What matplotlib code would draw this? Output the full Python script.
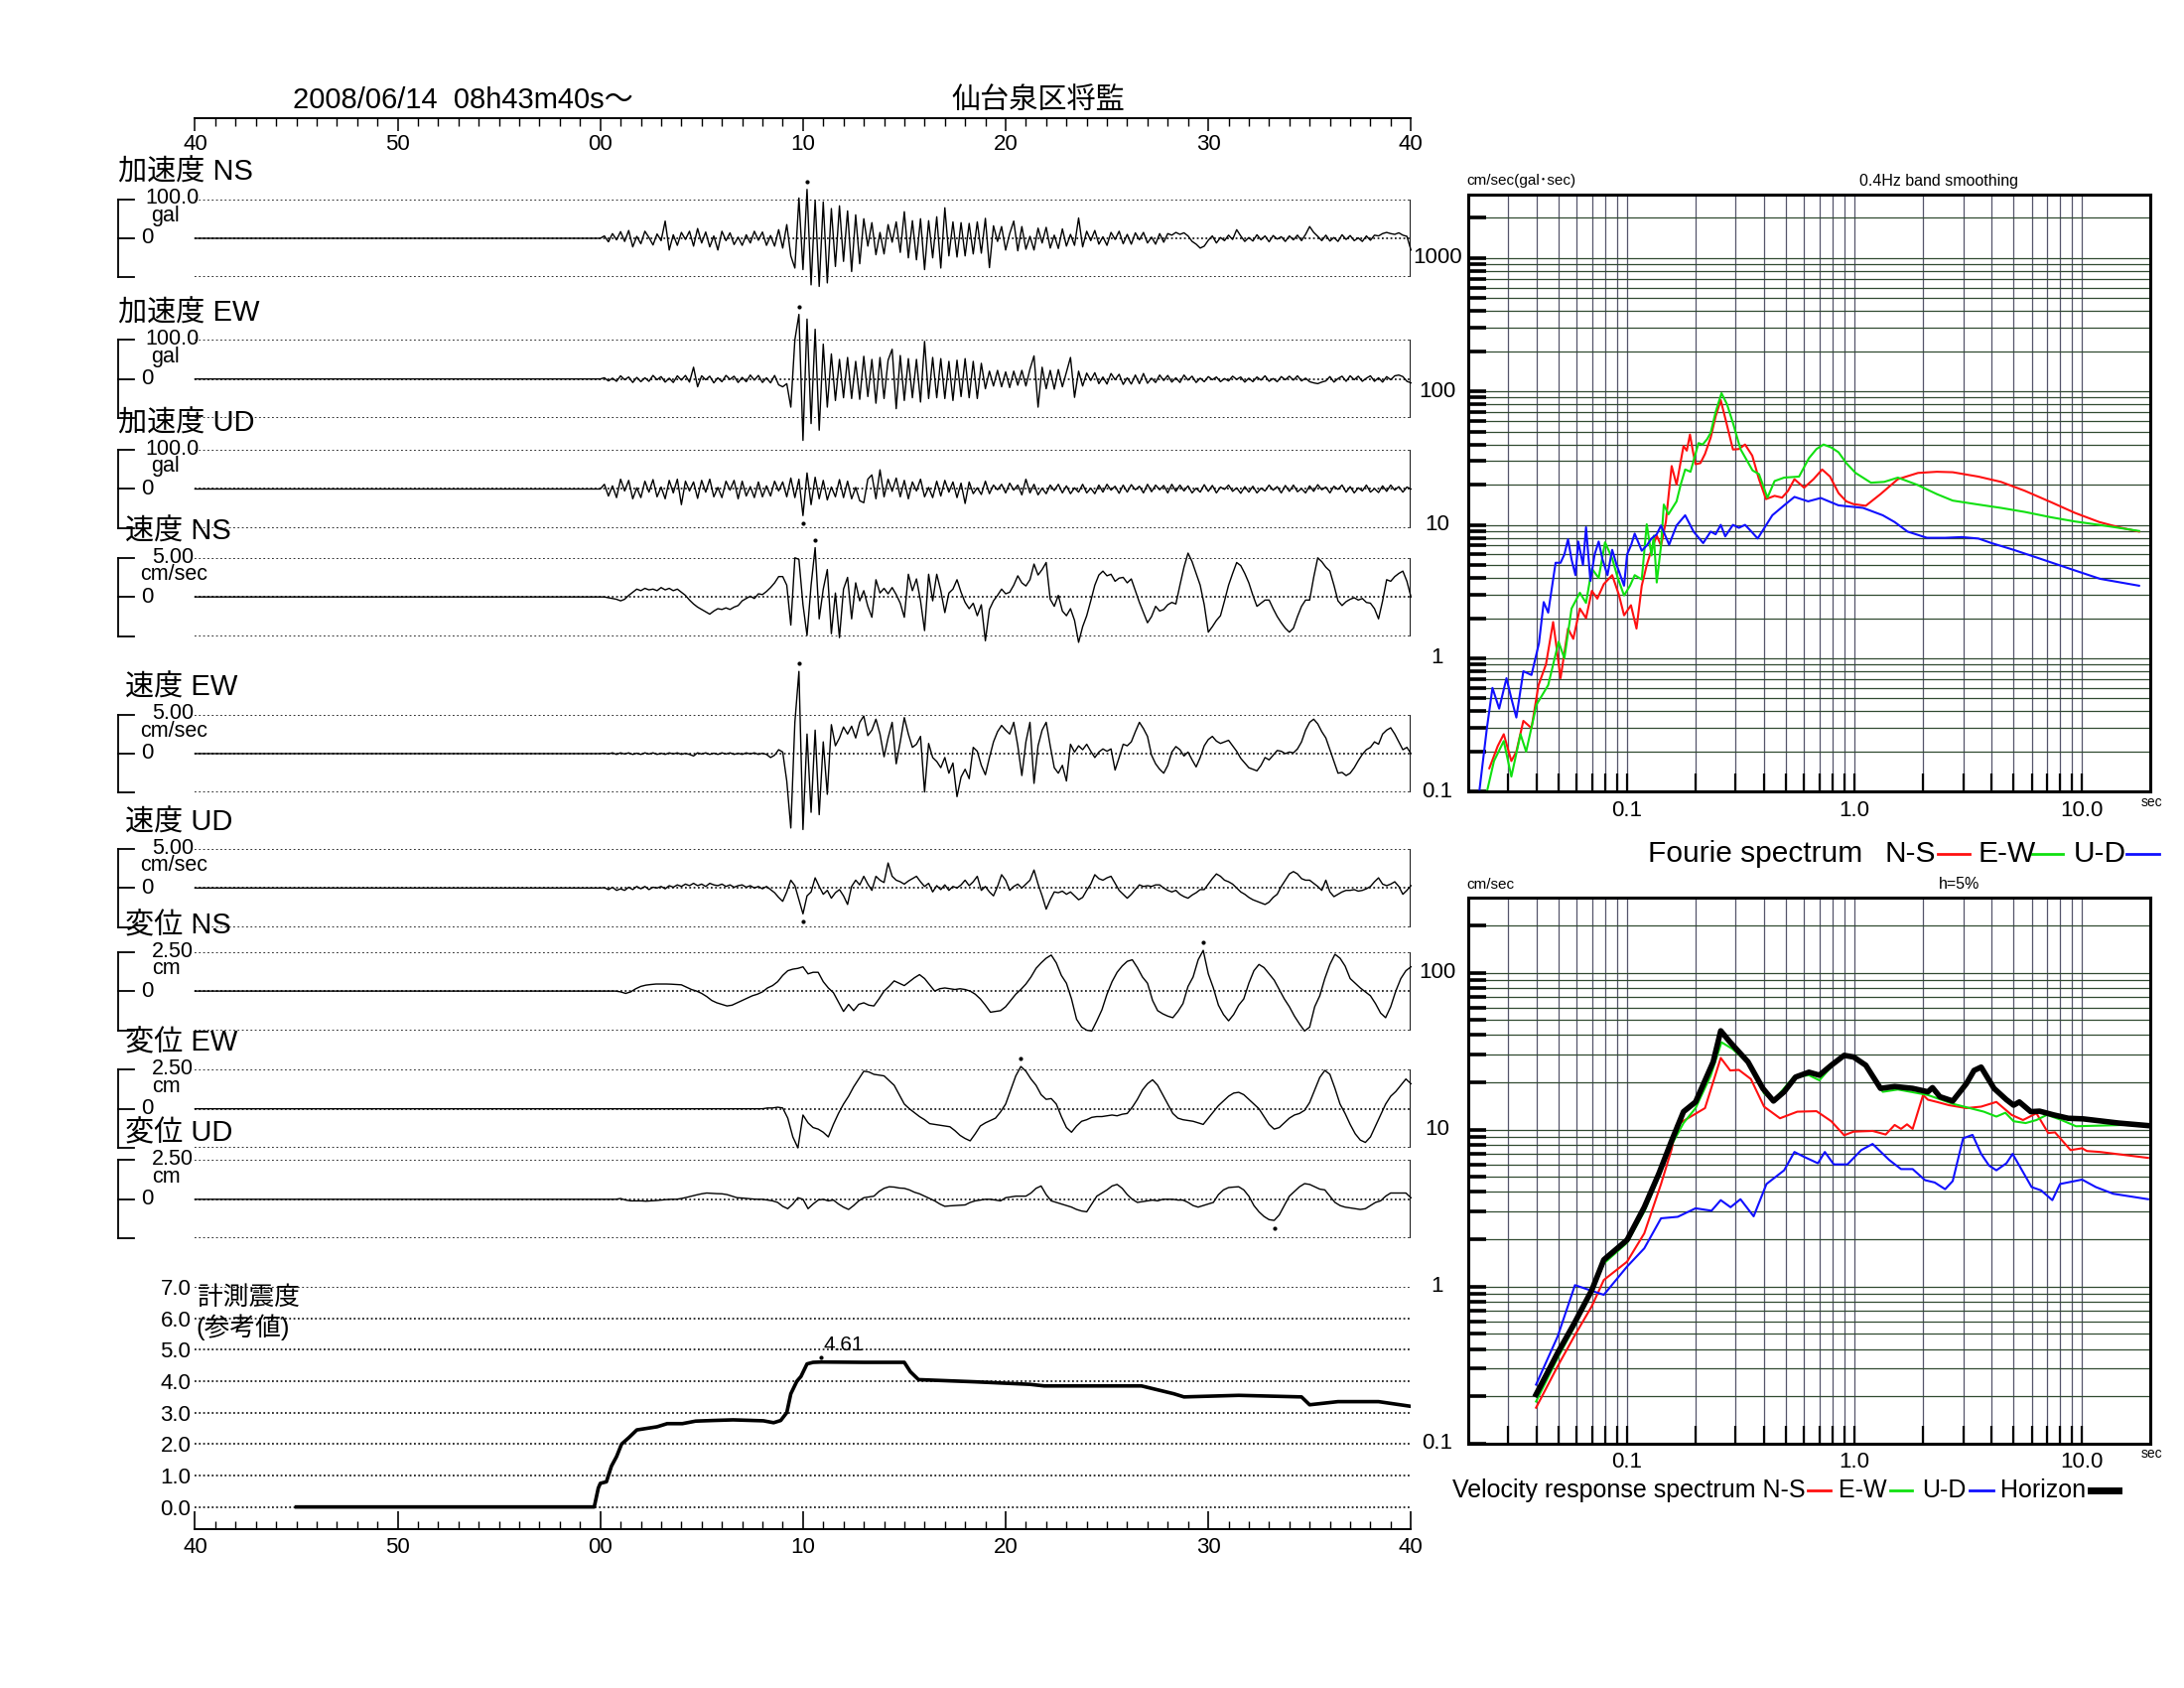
import numpy as np
import matplotlib
matplotlib.use('Agg')
import matplotlib.pyplot as plt
from matplotlib.lines import Line2D
from matplotlib.ticker import FixedLocator, MultipleLocator, NullFormatter

plt.rcParams['font.family'] = ['Liberation Sans', 'Noto Sans CJK JP', 'DejaVu Sans']

# ---------------- data ----------------
header_date = '2008/06/14  08h43m40s～'
station = '仙台泉区将監'
time_ticks = [0, 10, 20, 30, 40, 50, 60]
time_labels = ['40', '50', '00', '10', '20', '30', '40']

T_START = 20.0   # seconds after 08h43m40s where the samples begin (flat before)

# acceleration (gal), every 0.2 s from t=20
acc_ns = [
    0, 6, -9, 12, -4,   17, -8, 20, -22, 5,   -14, 18, 2, -17, 11,
    -6, 44, -30, 9, -18,   15, -3, 18, -20, 25,   -12, 16, -22, 6, -30,
    18, -6, 14, -16, 3,   -18, 9, -12, 18, -5,   16, -18, 7, -20, 22,
    -25, 35, -45, -76, 103,   -80, 125, -119, 97, -123,   93, -114, 76, -72, 83,
    -59, 70, -85, 60, -65,   50, -20, 40, -42, 15,   -40, 35, -10, 42, -36,
    68, -50, 45, -55, 50,   -80, 45, -50, 55, -76,   78, -45, 42, -48, 40,
    -45, 38, -40, 42, -38,   51, -75, 32, -8, 30,   -30, 12, 44, -32, 30,
    -28, 5, -30, 26, -12,   28, -25, 8, -26, 24,   -20, 10, -18, 52, -22,
    18, -6, 20, -15, 4,   -18, 15, -3, 18, -14,   10, -15, 14, -4, 15,
    -12, 3, -15, 12, -10,   12, 8, 15, 10, 14,   6, -8, -15, -25, -20,
    -5, 6, -12, 2, -6,   8, -3, 22, 6, -8,   2, -7, 9, -4, 6,
    -9, 7, -2, 4, -8,   6, -4, 8, -6, 10,   30, 15, 5, -6, 8,
    -7, 2, -8, 9, -3,   7, -6, 1, -8, 6,   -5, 8, 6, 12, 15,
    12, 10, 14, 8, 5,   -30]
acc_ew = [
    0, 3, -5, 2, -6,   8, -2, 5, -9, 4,   -7, 3, -6, 9, -2,
    6, -8, 2, -9, 8,   -3, 9, -8, 30, -20,   8, -2, 7, -10, 3,
    -7, 9, -1, 7, -9,   4, -7, 10, -3, 9,   -9, 3, -10, 9, -15,
    -20, -12, -72, 100, 165,   -157, 153, -114, 127, -131,   89, -72, 64, -55, 50,
    -48, 55, -50, 45, -52,   58, -45, 50, -62, 55,   -50, 48, 76, -76, 60,
    -55, 52, -48, 50, -59,   96, -50, 55, -48, 52,   -50, 45, -55, 48, -45,
    52, -48, 45, -50, 40,   -25, 20, -18, 22, -20,   18, -22, 20, -16, 22,
    -18, 25, 59, -72, 30,   -25, 22, -26, 24, -20,   18, 55, -47, 20, -18,
    15, -4, 16, -12, 5,   -13, 14, -2, 12, -14,   3, -13, 10, -12, 14,
    -11, 2, -9, 10, -4,   9, -8, 3, -9, 10,   -3, 7, -9, 2, -7,
    6, -2, 5, -7, 1,   -5, 7, -1, 5, -8,   2, -7, 5, -3, 8,
    -6, 1, -7, 6, -2,   7, -3, 8, -5, 2,   -7, -10, -12, -8, -5,
    6, -8, 1, 7, -6,   8, -2, 7, -6, 2,   8, -6, 3, -8, 6,
    -2, 8, 10, 6, -6,   -10]
acc_ud = [
    0, 12, -18, 8, -22,   25, -5, 22, -25, 3,   -22, 20, -8, 24, -20,
    5, -25, 22, -10, 25,   -40, 20, -5, 18, -24,   22, -8, 25, -20, 4,
    -22, 20, -3, 22, -25,   20, -18, 6, -22, 18,   -20, 8, -18, 20, -5,
    18, -20, 28, -22, 25,   -68, 41, -40, 30, -25,   22, -28, 5, -20, 24,
    -22, 20, -25, 4, -30,   -35, 25, 36, -25, 49,   -20, 25, -6, 28, -20,
    22, -25, 18, -5, 25,   -20, 4, -22, 20, -18,   22, -8, 18, -22, 15,
    -37, 18, -12, 3, -14,   20, -12, 10, -2, 12,   -10, 15, -3, 10, -15,
    25, -10, 12, -15, 2,   -12, 10, -4, 12, -10,   8, -12, 3, -8, 12,
    -10, 2, -12, 10, -8,   12, -3, 7, -11, 10,   -8, 11, -2, 7, -10,
    12, -7, 10, -2, 9,   -10, 12, -6, 10, -5,   8, -10, 2, -8, 11,
    -6, 9, -10, 5, -1,   10, -6, 3, -11, 6,   -8, 7, -10, 2, -5,
    10, -3, 6, -10, 9,   -6, 10, -7, 1, -10,   8, -6, 11, -2, 5,
    -10, 7, -1, 10, -8,   6, -10, 3, -5, 10,   -8, 1, -9, 8, -6,
    10, -3, 6, -8, 5,   0]

# velocity (cm/sec), every 0.2 s from t=20
vel_ns = [
    0, 0, -0.1, -0.2, -0.3,   -0.5, -0.3, 0.2, 0.6, 1.0,   0.8, 1.1, 0.9, 1.0, 0.8,
    1.2, 0.9, 1.1, 0.8, 1.0,   0.6, 0.2, -0.4, -0.9, -1.3,   -1.6, -1.9, -2.2, -1.8, -1.5,
    -1.6, -1.4, -1.6, -1.3, -1.1,   -0.5, -0.2, 0.1, -0.2, 0.4,   0.3, 0.7, 1.2, 1.8, 2.6,
    2.6, 1.5, -3.6, 5.0, 4.8,   -1.0, -4.9, 1.5, 6.3, -2.8,   1.0, 3.5, -4.7, 0.5, -5.2,
    1.0, 2.5, -2.8, 1.8, -0.5,   0.8, -1.2, -2.6, 2.2, 0.5,   1.1, 0.4, 1.2, 0.3, -0.8,
    -2.6, 2.9, 0.8, 2.3, -0.5,   -4.3, 2.9, -0.5, 2.9, 0.8,   -2.0, 0.5, 1.0, 2.2, 0.6,
    -0.7, -1.5, -0.8, -2.4, -1.0,   -5.6, -1.6, -0.5, 0.2, 1.0,   0.4, 0.6, 1.5, 2.7, 1.8,
    1.4, 2.2, 4.2, 2.8, 3.5,   4.4, -0.3, -1.2, 0.2, -1.8,   -2.4, -1.5, -3.0, -5.8, -3.8,
    -2.4, -0.5, 1.5, 2.8, 3.3,   2.7, 2.9, 2.0, 2.4, 2.5,   1.8, 2.3, 0.8, -0.7, -2.0,
    -3.3, -2.5, -1.2, -1.8, -1.6,   -1.0, -0.7, -0.9, 1.5, 3.8,   5.6, 4.5, 3.0, 1.5, -1.0,
    -4.5, -3.8, -3.0, -2.4, -0.5,   1.5, 3.0, 4.4, 4.0, 3.0,   1.8, 0.2, -1.2, -0.8, -0.4,
    -0.4, -1.5, -2.5, -3.3, -4.0,   -4.5, -4.0, -2.5, -1.2, -0.4,   -0.4, 2.5, 5.0, 4.5, 3.8,
    3.3, 1.5, -0.5, -1.1, -0.6,   -0.3, -0.1, -0.4, -0.2, -0.7,   -0.8, -1.5, -2.8, -0.5, 2.2,
    2.0, 2.6, 3.0, 3.3, 2.0,   0.0]
vel_ew = [
    0, 0.05, -0.05, 0.1, -0.1,   0.1, -0.05, 0.1, -0.1, 0.05,   -0.1, 0.1, -0.05, 0.1, -0.1,
    0.05, -0.1, 0.1, -0.05, 0.1,   -0.1, 0.05, -0.1, -0.3, 0.1,   -0.05, 0.1, -0.1, 0.05, -0.1,
    0.1, -0.05, 0.1, -0.1, 0.05,   -0.1, 0.1, -0.05, 0.1, -0.1,   0.05, -0.1, -0.5, -0.2, 0.5,
    0.2, -3.5, -9.5, 4.0, 10.5,   -9.7, 2.5, -7.5, 3.0, -7.8,   1.5, -5.2, 3.7, 1.0, 2.0,
    3.4, 2.5, 3.5, 2.0, 4.0,   4.8, 2.3, 3.0, 4.4, 2.5,   -0.4, 2.0, 4.0, -1.3, 1.5,
    4.6, 2.5, 0.8, 1.2, 2.2,   -4.9, 1.3, -0.5, -1.0, -1.8,   -0.5, -2.5, -1.2, -5.5, -3.0,
    -2.0, -3.2, 0.8, 0.3, -1.5,   -2.7, -0.5, 1.5, 2.8, 3.6,   3.0, 2.5, 4.0, 1.0, -2.8,
    1.5, 4.0, -3.8, 1.0, 3.0,   4.0, 1.0, -1.8, -2.5, -1.5,   -3.5, 1.2, 0.2, 1.0, 0.5,
    1.2, 0.3, -0.5, 0.2, 0.6,   0.3, 0.6, -2.1, -0.5, 1.2,   1.0, 1.5, 2.8, 4.0, 3.2,
    2.2, -0.2, -1.3, -2.0, -2.5,   -1.5, 0.2, 0.9, 0.5, -0.3,   0.2, -0.8, -1.7, -0.5, 1.0,
    1.8, 2.2, 1.6, 1.3, 1.5,   1.7, 1.0, 0.3, -0.6, -1.2,   -1.8, -2.0, -2.2, -1.5, -0.5,
    -0.8, -0.2, 0.4, 0.3, 0.0,   0.2, 0.1, 0.6, 1.5, 3.0,   4.0, 4.4, 3.8, 2.8, 2.0,
    0.5, -1.0, -2.5, -2.4, -2.8,   -2.5, -1.8, -0.9, -0.1, 0.5,   0.8, 1.5, 1.2, 2.5, 3.0,
    3.3, 2.5, 1.5, 0.5, 0.8,   0.0]
vel_ud = [
    0, 0.05, -0.2, 0.1, -0.3,   -0.1, -0.3, 0.1, -0.2, 0.2,   -0.1, 0.2, -0.2, 0.1, 0.0,
    0.2, -0.1, 0.3, 0.1, 0.4,   0.2, 0.5, 0.3, 0.6, 0.3,   0.5, 0.2, 0.6, 0.4, 0.3,
    0.5, 0.2, 0.4, 0.1, 0.3,   0.4, 0.1, 0.3, 0.0, 0.2,   -0.1, 0.2, -0.2, -0.6, -1.2,
    -1.7, -0.5, 1.0, 0.3, -1.5,   -3.3, -1.0, -0.5, 1.3, 0.2,   -0.8, -0.3, -1.3, -0.6, -0.2,
    -1.0, -2.1, 0.2, 1.0, 0.4,   1.5, 0.5, -0.3, 1.5, 1.0,   0.7, 3.2, 1.5, 1.0, 0.8,
    0.5, 0.9, 1.2, 1.5, 0.8,   0.2, 0.6, -0.5, 0.3, -0.2,   0.4, -0.3, 0.2, 0.0, 0.4,
    1.0, 0.3, 0.8, 1.5, -0.3,   0.2, -0.5, -1.0, 0.2, 1.7,   1.0, -0.3, 0.2, 0.5, 0.0,
    0.5, 1.0, 2.3, 0.5, -1.0,   -2.7, -1.5, -0.5, -0.6, -0.4,   -0.8, -0.5, -1.0, -1.5, -1.2,
    -0.3, 0.5, 1.7, 1.2, 1.0,   1.3, 1.5, 0.6, -0.3, -0.8,   -1.3, -0.8, -0.2, 0.4, 0.2,
    0.3, 0.2, 0.4, 0.4, 0.0,   -0.3, -0.5, -0.3, -0.8, -1.1,   -1.3, -0.9, -0.6, -0.2, -0.2,
    0.5, 1.2, 1.8, 1.5, 1.0,   0.8, 0.5, 0.0, -0.5, -0.8,   -1.2, -1.5, -1.7, -1.9, -2.1,
    -1.8, -1.2, -0.8, 0.2, 1.0,   1.8, 2.1, 1.8, 1.2, 1.0,   1.0, 0.6, 0.2, -0.3, 1.0,
    -0.5, -1.1, -0.8, -0.5, -0.3,   -0.3, -0.2, -0.4, -0.3, -0.1,   0.2, 0.8, 1.3, 0.5, 0.3,
    0.5, 0.8, 0.2, -0.8, -0.3,   0.3]

# displacement (cm), every 0.25 s from t=20
dis_ns = [
    0, 0, 0, 0,   -0.05, -0.15, -0.05, 0.15,   0.3, 0.38, 0.42, 0.45,   0.45, 0.45, 0.44, 0.42,
    0.4, 0.25, 0.1, 0.0,   -0.15, -0.35, -0.6, -0.75,   -0.85, -0.95, -0.9, -0.75,
    -0.6, -0.45, -0.3, -0.2,   -0.05, 0.2, 0.35, 0.6,   1.0, 1.3, 1.4, 1.45,
    1.55, 1.1, 1.2, 1.2,   0.6, 0.2, -0.1, -0.7,   -1.3, -0.85, -1.25, -0.85,
    -0.75, -0.9, -0.95, -0.5,   0.0, 0.3, 0.65, 0.5,   0.35, 0.6, 0.85, 1.05,
    0.8, 0.4, 0.0, 0.15,   0.2, 0.15, 0.1, 0.15,   0.1, 0.0, -0.2, -0.5,
    -0.9, -1.35, -1.3, -1.25,   -1.0, -0.6, -0.2, 0.1,   0.45, 0.9, 1.45, 1.8,
    2.1, 2.3, 1.8, 1.0,   0.5, -0.5, -1.8, -2.3,   -2.5, -2.55, -1.9, -1.2,
    -0.2, 0.6, 1.2, 1.6,   1.9, 2.0, 1.5, 0.9,   0.5, -0.6, -1.25, -1.45,
    -1.6, -1.7, -1.3, -0.8,   0.3, 0.9, 2.0, 2.6,   1.1, 0.2, -0.9, -1.5,
    -1.9, -1.5, -0.9, -0.5,   0.5, 1.3, 1.7, 1.5,   1.1, 0.7, 0.1, -0.5,
    -1.0, -1.6, -2.1, -2.55,   -2.3, -1.0, -0.3, 0.8,   1.7, 2.35, 2.1, 1.6,
    0.8, 0.5, 0.2, -0.05,   -0.3, -0.8, -1.4, -1.7,   -1.0, 0.0, 0.8, 1.3,
    1.55]
dis_ew = [
    0, 0, 0, 0,   0, 0, 0, 0,   0, 0, 0, 0,   0, 0, 0, 0,
    0, 0, 0, 0,   0, 0, 0, 0,   0, 0, 0, 0,   0, 0, 0, 0,
    0, 0.05, 0.05, 0.1,   0.05, -0.6, -1.8, -2.5,   -0.4, -0.9, -1.2, -1.3,
    -1.5, -1.8, -1.0, -0.3,   0.3, 0.8, 1.4, 1.9,   2.4, 2.35, 2.2, 2.15,
    2.1, 1.8, 1.5, 0.9,   0.3, 0.0, -0.25, -0.5,   -0.7, -0.95, -1.0, -1.05,
    -1.1, -1.15, -1.4, -1.7,   -1.9, -2.05, -1.6, -1.1,   -0.9, -0.75, -0.6, -0.2,
    0.3, 1.2, 2.1, 2.7,   2.4, 1.9, 1.5, 0.9,   0.6, 0.65, 0.3, -0.5,
    -1.2, -1.5, -1.1, -0.8,   -0.7, -0.55, -0.5, -0.5,   -0.45, -0.4, -0.45, -0.35,
    -0.3, 0.1, 0.6, 1.2,   1.6, 1.85, 1.5, 0.9,   0.3, -0.3, -0.6, -0.7,
    -0.75, -0.8, -0.9, -1.0,   -0.6, -0.2, 0.2, 0.5,   0.8, 1.0, 1.05, 0.9,
    0.6, 0.3, 0.0, -0.5,   -1.0, -1.3, -1.2, -0.9,   -0.6, -0.4, -0.3, -0.1,
    0.4, 1.2, 2.0, 2.45,   2.2, 1.3, 0.3, -0.3,   -1.0, -1.6, -2.0, -2.15,
    -1.8, -1.1, -0.4, 0.3,   0.8, 1.1, 1.5, 1.9,   1.6]
dis_ud = [
    0, 0, 0, 0,   0.05, -0.05, -0.1, -0.1,   -0.1, -0.12, -0.1, -0.08,
    -0.05, -0.02, 0.0, 0.0,   0.05, 0.12, 0.2, 0.28,   0.35, 0.4, 0.38, 0.36,
    0.35, 0.3, 0.2, 0.1,   0.08, 0.05, 0.02, 0.0,   0.0, -0.05, -0.1, -0.2,
    -0.45, -0.6, -0.3, 0.1,   0.0, -0.6, -0.3, -0.05,   0.0, -0.1, -0.05, -0.3,
    -0.5, -0.65, -0.4, -0.1,   0.1, 0.15, 0.2, 0.5,   0.7, 0.8, 0.78, 0.72,
    0.7, 0.6, 0.45, 0.35,   0.2, 0.05, -0.1, -0.3,   -0.45, -0.42, -0.4, -0.38,
    -0.36, -0.2, -0.1, -0.05,   0.0, 0.0, -0.05, -0.1,   0.1, 0.15, 0.2, 0.2,
    0.2, 0.4, 0.7, 0.85,   0.3, -0.1, -0.2, -0.3,   -0.4, -0.5, -0.65, -0.75,
    -0.8, -0.3, 0.2, 0.4,   0.6, 0.85, 0.95, 0.7,   0.3, 0.0, -0.2, -0.15,
    -0.1, -0.05, -0.1, 0.0,   0.0, 0.0, -0.05, -0.05,   -0.2, -0.4, -0.5, -0.4,
    -0.3, -0.2, 0.3, 0.6,   0.75, 0.78, 0.8, 0.6,   0.2, -0.4, -0.8, -1.1,
    -1.3, -1.35, -1.0, -0.4,   0.2, 0.5, 0.8, 1.0,   0.95, 0.8, 0.65, 0.6,
    0.2, -0.2, -0.4, -0.5,   -0.55, -0.6, -0.65, -0.6,   -0.4, -0.2, -0.1, 0.2,
    0.4, 0.4, 0.4, 0.4,   0.1]

# seismic intensity (reference value): (seconds after 08h43m40s, value)
intensity = [(5.0, 0.0), (19.7, 0.0), (19.9, 0.6), (20.0, 0.75), (20.3, 0.8), (20.55, 1.3),
             (20.8, 1.6), (21.05, 2.0), (21.4, 2.2), (21.8, 2.45), (22.3, 2.5), (22.8, 2.55),
             (23.3, 2.65), (24.05, 2.65), (24.7, 2.73), (25.55, 2.75), (26.55, 2.77),
             (28.05, 2.74), (28.55, 2.68), (28.9, 2.75), (29.2, 3.0), (29.4, 3.6), (29.7, 4.0),
             (29.9, 4.15), (30.2, 4.55), (30.5, 4.6), (30.9, 4.61), (33.0, 4.6), (35.0, 4.6),
             (35.3, 4.3), (35.7, 4.05), (38.5, 3.98), (41.2, 3.9), (41.9, 3.85), (46.7, 3.85),
             (48.3, 3.6), (48.8, 3.5), (51.5, 3.55), (54.6, 3.5), (55.0, 3.25), (56.4, 3.35),
             (58.4, 3.35), (60.0, 3.2)]

# Fourier spectrum (period sec, cm/sec)
fourier_ns = [(0.0248, 0.15), (0.027, 0.22), (0.0287, 0.27), (0.031, 0.17), (0.0326, 0.2),
              (0.035, 0.34), (0.038, 0.3), (0.0408, 0.63), (0.044, 0.9), (0.0473, 1.87),
              (0.049, 1.2), (0.051, 0.71), (0.055, 1.67), (0.058, 1.4), (0.062, 2.36),
              (0.066, 2.0), (0.070, 3.2), (0.074, 2.8), (0.079, 3.6), (0.086, 4.2),
              (0.092, 3.0), (0.097, 2.1), (0.104, 2.5), (0.11, 1.67), (0.116, 3.5),
              (0.122, 5.0), (0.128, 6.5), (0.135, 8.3), (0.141, 7.0), (0.148, 10.5),
              (0.157, 27.6), (0.165, 20), (0.177, 39), (0.183, 36), (0.189, 47.5),
              (0.195, 35), (0.2, 28.5), (0.21, 29), (0.22, 34), (0.233, 45), (0.245, 65),
              (0.258, 86), (0.272, 60), (0.292, 36.7), (0.31, 37), (0.33, 40), (0.355, 33),
              (0.38, 22), (0.408, 15.6), (0.445, 16.5), (0.48, 16), (0.51, 18), (0.544, 22),
              (0.6, 19), (0.66, 22), (0.72, 26), (0.78, 23), (0.85, 17.3), (0.92, 15),
              (0.99, 14.3), (1.12, 13.9), (1.3, 17), (1.55, 22), (1.9, 24.5), (2.3, 25),
              (2.7, 24.8), (3.5, 23), (4.4, 21), (5.6, 18), (7.3, 14.8), (9.3, 12.3),
              (11.9, 10.5), (14.5, 9.6), (17.8, 8.9)]
fourier_ew = [(0.0242, 0.1), (0.026, 0.17), (0.0287, 0.24), (0.031, 0.13), (0.034, 0.27),
              (0.036, 0.2), (0.040, 0.45), (0.045, 0.63), (0.05, 1.33), (0.053, 1.0),
              (0.057, 2.36), (0.062, 3.1), (0.066, 2.6), (0.07, 4.7), (0.075, 4.0),
              (0.08, 7.4), (0.086, 5.6), (0.091, 4.0), (0.097, 2.96), (0.103, 3.5),
              (0.108, 4.2), (0.116, 3.9), (0.122, 10.1), (0.128, 5.9), (0.131, 8.3),
              (0.135, 3.7), (0.141, 7.0), (0.145, 14.2), (0.152, 12), (0.165, 15),
              (0.172, 20), (0.18, 26), (0.19, 25), (0.206, 41), (0.215, 40), (0.225, 44),
              (0.233, 49), (0.245, 70), (0.26, 97), (0.275, 80), (0.292, 58), (0.315, 37),
              (0.356, 25.6), (0.38, 24), (0.414, 16), (0.445, 21.3), (0.49, 22.6),
              (0.57, 23), (0.63, 31.6), (0.68, 37), (0.73, 40), (0.79, 38), (0.85, 35),
              (0.92, 29), (1.01, 24.5), (1.18, 20.7), (1.35, 21), (1.55, 22.6), (1.88, 20),
              (2.3, 17), (2.7, 15.2), (3.5, 14.2), (4.4, 13.4), (5.6, 12.5), (7.3, 11.4),
              (9.3, 10.6), (11.9, 10), (14.5, 9.5), (17.8, 9.0)]
fourier_ud = [(0.0224, 0.1), (0.0242, 0.3), (0.0256, 0.6), (0.0274, 0.42), (0.0295, 0.71),
              (0.031, 0.5), (0.0326, 0.36), (0.035, 0.8), (0.038, 0.75), (0.041, 1.3),
              (0.043, 2.64), (0.045, 2.2), (0.0485, 5.2), (0.051, 5.2), (0.053, 6.0),
              (0.055, 7.8), (0.057, 5.5), (0.0593, 4.2), (0.061, 7.5), (0.064, 5.0),
              (0.066, 9.6), (0.069, 3.8), (0.072, 6.0), (0.075, 7.5), (0.078, 5.5),
              (0.082, 4.2), (0.086, 6.5), (0.09, 5.0), (0.097, 3.5), (0.1, 6.0),
              (0.104, 7.0), (0.108, 8.6), (0.116, 6.4), (0.122, 7.0), (0.128, 7.9),
              (0.135, 8.5), (0.141, 9.9), (0.153, 7.1), (0.165, 9.9), (0.18, 11.8),
              (0.196, 8.9), (0.216, 7.3), (0.233, 8.9), (0.245, 8.5), (0.258, 10),
              (0.27, 8.2), (0.292, 10), (0.31, 9.5), (0.33, 10), (0.35, 9.0), (0.375, 7.9),
              (0.435, 11.8), (0.49, 14), (0.544, 16.2), (0.625, 15), (0.71, 15.9),
              (0.85, 14), (1.09, 13.4), (1.33, 11.8), (1.5, 10.5), (1.71, 8.9), (2.08, 8.0),
              (2.5, 8.0), (2.96, 8.1), (3.5, 7.9), (4.0, 7.3), (5.0, 6.5), (6.6, 5.55),
              (8.9, 4.67), (12, 3.94), (17.8, 3.5)]

# velocity response spectrum h=5% (period sec, cm/sec)
resp_ns = [(0.0398, 0.169), (0.0495, 0.31), (0.0585, 0.48), (0.07, 0.75), (0.079, 1.1),
           (0.1, 1.44), (0.119, 2.18), (0.141, 4.5), (0.157, 7.5), (0.165, 10.7),
           (0.196, 12.4), (0.22, 13.7), (0.258, 28.6), (0.284, 23.8), (0.31, 24.0),
           (0.35, 21), (0.4, 14), (0.47, 11.8), (0.56, 13), (0.68, 13.1), (0.79, 11.3),
           (0.9, 9.2), (0.99, 9.7), (1.2, 9.8), (1.37, 9.3), (1.5, 10.7), (1.6, 10.1),
           (1.7, 10.8), (1.8, 10.1), (2.0, 16.6), (2.1, 15.5), (2.3, 15), (2.6, 14.3),
           (3.1, 13.7), (3.6, 14.0), (4.2, 15), (4.9, 12.4), (5.5, 11.5), (6.3, 12.7),
           (7.1, 9.5), (7.6, 9.6), (8.9, 7.4), (10, 7.6), (10.5, 7.3), (12, 7.2), (19.5, 6.6)]
resp_ew = [(0.0398, 0.185), (0.0495, 0.35), (0.0585, 0.55), (0.07, 0.92), (0.079, 1.4),
           (0.1, 1.9), (0.119, 3.0), (0.138, 5.0), (0.157, 8.0), (0.177, 11), (0.2, 13.7),
           (0.233, 22), (0.26, 36), (0.29, 32.7), (0.35, 25.7), (0.4, 17), (0.44, 15.3),
           (0.54, 21.6), (0.63, 22.2), (0.7, 20.6), (0.79, 25.1), (0.9, 29.5), (0.99, 28.8),
           (1.12, 25.3), (1.33, 17.4), (1.55, 18), (2.1, 16.6), (2.7, 14.6), (3.7, 13),
           (4.2, 12.1), (4.6, 12.8), (5.0, 11.3), (5.65, 11), (6.3, 11.5), (7.0, 12.4),
           (8.0, 11.6), (9.4, 10.5), (15.3, 10.7), (19.5, 10.6)]
resp_ud = [(0.0398, 0.237), (0.0495, 0.48), (0.059, 1.02), (0.079, 0.885), (0.1, 1.34),
           (0.119, 1.75), (0.141, 2.72), (0.167, 2.78), (0.2, 3.15), (0.235, 3.04),
           (0.258, 3.55), (0.285, 3.2), (0.315, 3.6), (0.36, 2.8), (0.41, 4.5), (0.49, 5.5),
           (0.544, 7.2), (0.6, 6.7), (0.69, 6.1), (0.74, 7.2), (0.81, 6.0), (0.93, 6.0),
           (1.07, 7.4), (1.2, 8.1), (1.42, 6.4), (1.6, 5.6), (1.8, 5.6), (2.04, 4.76),
           (2.25, 4.6), (2.5, 4.17), (2.7, 4.7), (3.0, 8.8), (3.3, 9.25), (3.6, 7.0),
           (3.9, 5.9), (4.2, 5.5), (4.65, 6.1), (4.95, 7.0), (6.0, 4.3), (6.6, 4.1),
           (7.4, 3.55), (8.0, 4.5), (10, 4.8), (11.5, 4.3), (13.7, 3.9), (19.5, 3.6)]
resp_h = [(0.0398, 0.205), (0.0495, 0.377), (0.0585, 0.58), (0.07, 0.95), (0.079, 1.48),
          (0.1, 1.98), (0.119, 3.2), (0.138, 5.25), (0.157, 8.5), (0.177, 13), (0.2, 15),
          (0.239, 27), (0.258, 42.6), (0.284, 36), (0.34, 27), (0.395, 18.3), (0.44, 15.2),
          (0.49, 17.4), (0.55, 21.6), (0.63, 23.2), (0.7, 22.2), (0.79, 25.7), (0.9, 29.7),
          (0.99, 29), (1.12, 25.7), (1.3, 18.3), (1.5, 18.8), (1.8, 18.3), (2.1, 17.4),
          (2.2, 18.5), (2.37, 16.2), (2.7, 15.2), (3.1, 19.6), (3.35, 23.8), (3.6, 25),
          (4.1, 18.3), (4.65, 15.5), (5.0, 14.3), (5.3, 15.0), (5.95, 13), (6.5, 13.1),
          (7.5, 12.4), (8.7, 11.8), (10.1, 11.7), (14.5, 11.0), (19.5, 10.6)]

# ---------------- layout helpers (reference grid 1568 x 1212) ----------------
W, H = 1568.0, 1212.0


def fx(px):
    return px / W


def fy(py):
    return 1.0 - py / H


X0, X1 = 140.0, 1013.0
PANEL_H = 56.2
DOT = (0, (1, 1.4))

fig = plt.figure(figsize=(22, 17), dpi=100)
fig.patch.set_facecolor('white')


def fline(x0, y0, x1, y1, **kw):
    kw.setdefault('color', 'k')
    kw.setdefault('lw', 1.3)
    fig.add_artist(Line2D([fx(x0), fx(x1)], [fy(y0), fy(y1)], transform=fig.transFigure, **kw))


# header
fig.text(fx(210), fy(72), header_date, fontsize=21, ha='left', va='center')
fig.text(fx(683), fy(72), station, fontsize=21, ha='left', va='center')

# top time axis
axt = fig.add_axes([fx(X0), fy(85), fx(X1) - fx(X0), 0.001])
axt.set_xlim(0, 60)
for s in ('top', 'left', 'right'):
    axt.spines[s].set_visible(False)
axt.spines['bottom'].set_linewidth(1.4)
axt.set_yticks([])
axt.set_xticks(time_ticks)
axt.set_xticklabels(time_labels)
axt.xaxis.set_minor_locator(MultipleLocator(1))
axt.tick_params(axis='x', which='major', direction='out', length=9, width=1.1, labelsize=16, pad=2)
axt.tick_params(axis='x', which='minor', direction='out', length=6, width=1.0)

# waveform panels
panels = [
    ('加速度 NS', 143.0, 100.0, '100.0', 'gal', 0.2, acc_ns, 85),
    ('加速度 EW', 244.0, 100.0, '100.0', 'gal', 0.2, acc_ew, 85),
    ('加速度 UD', 323.0, 100.0, '100.0', 'gal', 0.2, acc_ud, 85),
    ('速度 NS', 400.5, 5.0, '5.00', 'cm/sec', 0.2, vel_ns, 90),
    ('速度 EW', 513.0, 5.0, '5.00', 'cm/sec', 0.2, vel_ew, 90),
    ('速度 UD', 609.5, 5.0, '5.00', 'cm/sec', 0.2, vel_ud, 90),
    ('変位 NS', 683.5, 2.5, '2.50', 'cm', 0.25, dis_ns, 90),
    ('変位 EW', 768.0, 2.5, '2.50', 'cm', 0.25, dis_ew, 90),
    ('変位 UD', 833.0, 2.5, '2.50', 'cm', 0.25, dis_ud, 90),
]
for name, top, full, full_txt, unit, dt, vals, lx in panels:
    bot = top + PANEL_H
    zero = top + PANEL_H / 2
    ax = fig.add_axes([fx(X0), fy(bot), fx(X1) - fx(X0), fy(top) - fy(bot)])
    ax.set_xlim(0, 60)
    ax.set_ylim(-full, full)
    ax.axis('off')
    for yv in (full, 0, -full):
        ax.axhline(yv, color='#202020', lw=1.3, ls=DOT, zorder=1)
    ax.axvline(60, color='k', lw=1.3)
    v = np.asarray(vals, dtype=float)
    t = T_START + dt * np.arange(len(v))
    ax.plot(np.r_[0.0, t], np.r_[0.0, v], color='k', lw=1.0, clip_on=False, zorder=3)
    k = int(np.argmax(np.abs(v)))
    ax.plot(t[k], v[k] + np.sign(v[k]) * 0.2 * full, 'k.', ms=4, clip_on=False)

    fig.text(fx(lx), fy(top - 19), name, fontsize=21, ha='left', va='center')
    right = 143 if unit == 'gal' else 139
    fig.text(fx(right), fy(top - 0.5), full_txt, fontsize=15.5, ha='right', va='center')
    ux = {'gal': 119, 'cm/sec': 125, 'cm': 119}[unit]
    fig.text(fx(ux), fy(top + 12), unit, fontsize=15.5, ha='center', va='center')
    fig.text(fx(106), fy(zero), '0', fontsize=16, ha='center', va='center')
    fline(85, top, 85, bot)
    for yy in (top, zero, bot):
        fline(85, yy, 96, yy)

# seismic intensity panel
Y0_PX, Y7_PX, AX_PX = 1082.0, 924.0, 1098.0
per_unit = (Y0_PX - Y7_PX) / 7.0
axi = fig.add_axes([fx(X0), fy(AX_PX), fx(X1) - fx(X0), fy(Y7_PX) - fy(AX_PX)])
axi.set_xlim(0, 60)
axi.set_ylim(-(AX_PX - Y0_PX) / per_unit, 7.0)
for s in ('top', 'left', 'right'):
    axi.spines[s].set_visible(False)
axi.spines['bottom'].set_linewidth(1.4)
for yv in range(8):
    axi.axhline(yv, color='#202020', lw=1.3, ls=DOT, zorder=1)
axi.set_xticks(time_ticks)
axi.set_xticklabels(time_labels)
axi.xaxis.set_minor_locator(MultipleLocator(1))
axi.tick_params(axis='x', which='major', direction='in', length=13, width=1.2, labelsize=16, pad=6)
axi.tick_params(axis='x', which='minor', direction='in', length=6, width=1.0)
axi.set_yticks(range(8))
axi.set_yticklabels(['%.1f' % v for v in range(8)])
axi.tick_params(axis='y', length=0, labelsize=16, pad=3)
it = [p[0] for p in intensity]
iv = [p[1] for p in intensity]
axi.plot(it, iv, color='k', lw=2.6, zorder=3)
kp = int(np.argmax(iv))
axi.plot(it[kp], iv[kp] + 0.15, 'k.', ms=4)
axi.text(it[kp] + 1.1, iv[kp] + 0.55, '%.2f' % iv[kp], fontsize=15, ha='center', va='center')
fig.text(fx(142), fy(932), '計測震度', fontsize=18.5, ha='left', va='center')
fig.text(fx(141), fy(953), '(参考値)', fontsize=18.5, ha='left', va='center')

# ---------------- spectra ----------------
SX0, SX1 = 1054.0, 1544.0
x_minor = [m * 10.0 ** e for e in (-2, -1, 0, 1) for m in range(1, 10)]
x_minor = [v for v in x_minor if 0.025 < v < 19.9]
GRID_V = '#55556b'
GRID_H = '#304a30'


def spectrum_axes(top, bot, ymax):
    ax = fig.add_axes([fx(SX0), fy(bot), fx(SX1) - fx(SX0), fy(top) - fy(bot)])
    ax.set_xscale('log')
    ax.set_yscale('log')
    ax.set_xlim(0.02, 20)
    ax.set_ylim(0.1, ymax)
    y_minor = [m * 10.0 ** e for e in (-1, 0, 1, 2, 3) for m in range(1, 10)]
    y_minor = [v for v in y_minor if 0.11 < v < ymax * 0.99]
    for v in x_minor:
        ax.axvline(v, color=GRID_V, lw=0.9, zorder=0)
    for v in y_minor:
        ax.axhline(v, color=GRID_H, lw=0.9, zorder=0)
    ax.xaxis.set_major_locator(FixedLocator([0.1, 1, 10]))
    ax.xaxis.set_minor_locator(FixedLocator([v for v in x_minor if abs(np.log10(v) - round(np.log10(v))) > 1e-6]))
    ax.xaxis.set_minor_formatter(NullFormatter())
    ax.set_xticklabels(['0.1', '1.0', '10.0'])
    ax.yaxis.set_major_locator(FixedLocator([v for v in (0.1, 1, 10, 100, 1000) if v < ymax]))
    ax.yaxis.set_minor_locator(FixedLocator(y_minor))
    ax.yaxis.set_minor_formatter(NullFormatter())
    ax.tick_params(axis='x', which='both', direction='in', length=13, width=1.6,
                   top=False, labelsize=16, pad=6)
    ax.tick_params(axis='y', which='both', direction='in', length=13, width=2.6,
                   right=False, labelleft=False)
    for s in ax.spines.values():
        s.set_linewidth(2.2)
    for v in (0.1, 1, 10, 100, 1000):
        if v < ymax:
            ax.text(-0.045, v, ('%g' % v), transform=ax.get_yaxis_transform(),
                    fontsize=16, ha='center', va='center')
    return ax


def unzip(pairs):
    return [p[0] for p in pairs], [p[1] for p in pairs]


axf = spectrum_axes(139.5, 568.5, 3000)
for data, col in ((fourier_ns, '#ff1010'), (fourier_ew, '#10e010'), (fourier_ud, '#1010ff')):
    tx, ty = unzip(data)
    axf.plot(tx, ty, color=col, lw=1.5)
fig.text(fx(1053), fy(130), 'cm/sec(gal･sec)', fontsize=11, ha='left', va='center')
fig.text(fx(1335), fy(130), '0.4Hz band smoothing', fontsize=11.5, ha='left', va='center')
fig.text(fx(1537), fy(576), 'sec', fontsize=10, ha='left', va='center')

fig.text(fx(1183), fy(613), 'Fourie spectrum', fontsize=21.5, ha='left', va='center')
fig.text(fx(1353), fy(613), 'N-S', fontsize=21.5, ha='left', va='center')
fig.text(fx(1420), fy(613), 'E-W', fontsize=21.5, ha='left', va='center')
fig.text(fx(1489), fy(613), 'U-D', fontsize=21.5, ha='left', va='center')
fline(1391, 613, 1414, 613, color='#ff1010', lw=2)
fline(1459, 613, 1481, 613, color='#10e010', lw=2)
fline(1527, 613, 1550, 613, color='#1010ff', lw=2)

axr = spectrum_axes(644.6, 1036.4, 300)
for data, col, lw in ((resp_ns, '#ff1010', 1.5), (resp_ew, '#10e010', 1.5),
                      (resp_ud, '#1010ff', 1.5), (resp_h, 'k', 4.0)):
    tx, ty = unzip(data)
    axr.plot(tx, ty, color=col, lw=lw)
fig.text(fx(1053), fy(635), 'cm/sec', fontsize=11, ha='left', va='center')
fig.text(fx(1392), fy(635), 'h=5%', fontsize=11.5, ha='left', va='center')
fig.text(fx(1537), fy(1044), 'sec', fontsize=10, ha='left', va='center')

fig.text(fx(1043), fy(1070), 'Velocity response spectrum N-S', fontsize=18, ha='left', va='center')
fig.text(fx(1320), fy(1070), 'E-W', fontsize=18, ha='left', va='center')
fig.text(fx(1380), fy(1070), 'U-D', fontsize=18, ha='left', va='center')
fig.text(fx(1436), fy(1070), 'Horizon', fontsize=18, ha='left', va='center')
fline(1298, 1070, 1314, 1070, color='#ff1010', lw=2)
fline(1357, 1070, 1373, 1070, color='#10e010', lw=2)
fline(1414, 1070, 1431, 1070, color='#1010ff', lw=2)
fline(1501, 1070, 1521, 1070, color='k', lw=5)

fig.savefig('out.png', dpi=100)
